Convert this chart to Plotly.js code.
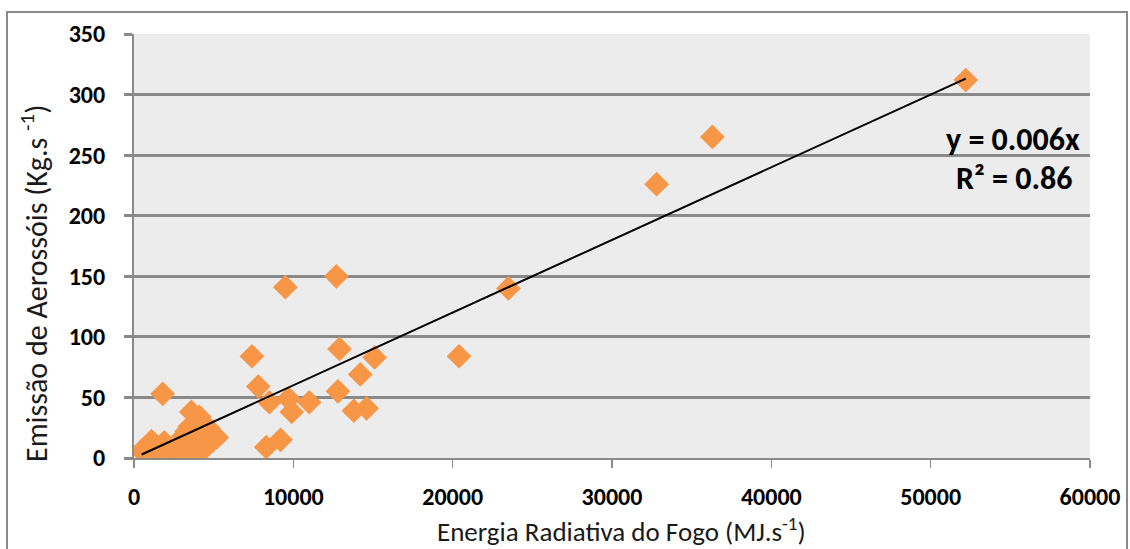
<!DOCTYPE html>
<html>
<head>
<meta charset="utf-8">
<script src="https://cdn.plot.ly/plotly-3.0.1.min.js"></script>
<style>html,body{margin:0;padding:0;background:#fff;}#chart{width:1130px;height:549px;}</style>
</head>
<body>
<div id="chart"></div>
<script>
// Fire radiative energy (MJ/s) vs aerosol emission (kg/s)
const energia = [52200, 36300, 32800, 23500, 20400, 12700, 9500, 12900, 7400, 15100,
  14200, 7800, 12800, 8500, 9700, 11000, 9900, 13800, 14600, 9200, 8300, 1800,
  480, 700, 900, 1100, 1300, 1600, 1900, 2000, 2100, 2400, 2600, 2900, 3000, 3100,
  3300, 3500, 3600, 3800, 3900, 4100, 4200, 4400, 4500, 4700, 4900, 5200];
const emissao = [312, 265, 226, 140, 84, 150, 141, 90, 84, 83,
  69, 59, 55, 46, 49, 46, 38, 39, 41, 15, 9, 53,
  6, 3, 1, 14, 8, 5, 13, 9, 3, 1, 7, 10, 4, 18,
  22, 26, 38, 2, 12, 34, 20, 28, 9, 24, 14, 17];
const trendSlope = 0.006;
const trendR2 = 0.86;
const yTicks = [0, 50, 100, 150, 200, 250, 300, 350];
const xTicks = [0, 10000, 20000, 30000, 40000, 50000, 60000];
const xTitle = 'Energia Radiativa do Fogo (MJ.s<sup>-1</sup>)';
const yTitle = 'Emissão de Aerossóis (Kg.s <sup>-1</sup>)';

const xMin = Math.min(...energia), xMax = Math.max(...energia);
const FONT = "Calibri, Carlito, Lato, 'Open Sans', sans-serif";

const traces = [
  {x: energia, y: emissao, type: 'scatter', mode: 'markers', yaxis: 'y2',
   marker: {symbol: 'diamond', size: 19, color: '#F79646', line: {width: 0}},
   hoverinfo: 'x+y', showlegend: false},
  {x: [xMin, xMax], y: [trendSlope * xMin, trendSlope * xMax], type: 'scatter', mode: 'lines', yaxis: 'y2',
   line: {color: '#000000', width: 2}, hoverinfo: 'skip', showlegend: false}
];

const L = 134, R = 40, T = 34, B = 91, W = 1130, H = 549;
const pw = W - L - R, ph = H - T - B;
const px = p => (p - L) / pw;
const py = p => (H - B - p) / ph;

const layout = {
  width: W, height: H,
  margin: {l: L, r: R, t: T, b: B, pad: 0},
  paper_bgcolor: '#ffffff',
  plot_bgcolor: '#ececec',
  font: {family: FONT, color: '#000000'},
  showlegend: false,
  xaxis: {
    range: [0, 60000], tickvals: xTicks, ticktext: xTicks.map(String),
    showgrid: false, zeroline: false,
    showline: true, linecolor: '#8a8a8a', linewidth: 2,
    ticks: 'outside', ticklen: 8, tickwidth: 1.5, tickcolor: '#8a8a8a',
    tickfont: {family: FONT, size: 24, color: '#000', weight: 'bold'},
    ticklabelstandoff: 8,
    fixedrange: true
  },
  yaxis: {
    range: [-3.4, 346.6], tickvals: yTicks, showticklabels: false,
    showgrid: true, gridcolor: '#d4d4d4', gridwidth: 6,
    zeroline: false, showline: false, ticks: '', fixedrange: true
  },
  yaxis2: {
    overlaying: 'y', side: 'left', anchor: 'x',
    range: [0, 350], tickvals: yTicks, ticktext: yTicks.map(String),
    showgrid: true, gridcolor: '#898989', gridwidth: 3,
    zeroline: false,
    showline: true, linecolor: '#8a8a8a', linewidth: 2,
    ticks: 'outside', ticklen: 8, tickwidth: 3, tickcolor: '#898989',
    tickfont: {family: FONT, size: 24, color: '#000', weight: 'bold'},
    ticklabelstandoff: 14,
    fixedrange: true
  },
  annotations: [
    {xref: 'paper', yref: 'paper', x: px(1082), y: py(139), xanchor: 'right', yanchor: 'middle',
     text: 'y = ' + trendSlope.toFixed(3) + 'x', showarrow: false,
     font: {family: FONT, size: 32, color: '#000', weight: 'bold'}},
    {xref: 'paper', yref: 'paper', x: px(1074), y: py(178), xanchor: 'right', yanchor: 'middle',
     text: 'R² = ' + trendR2.toFixed(2), showarrow: false,
     font: {family: FONT, size: 32, color: '#000', weight: 'bold'}},
    {xref: 'paper', yref: 'paper', x: px(621), y: py(529.5), xanchor: 'center', yanchor: 'middle',
     text: xTitle, showarrow: false,
     font: {family: FONT, size: 27, color: '#1a1a1a'}},
    {xref: 'paper', yref: 'paper', x: px(34), y: py(284), xanchor: 'center', yanchor: 'middle',
     text: yTitle, showarrow: false, textangle: -90,
     font: {family: FONT, size: 30, color: '#1a1a1a'}}
  ],
  shapes: [
    {type: 'rect', xref: 'paper', yref: 'paper', x0: px(7), x1: px(1127), y0: py(560), y1: py(12),
     line: {color: '#8a8a8a', width: 2}, fillcolor: 'rgba(0,0,0,0)', layer: 'below'}
  ]
};

Plotly.newPlot('chart', traces, layout, {displayModeBar: false, staticPlot: true});
</script>
</body>
</html>
